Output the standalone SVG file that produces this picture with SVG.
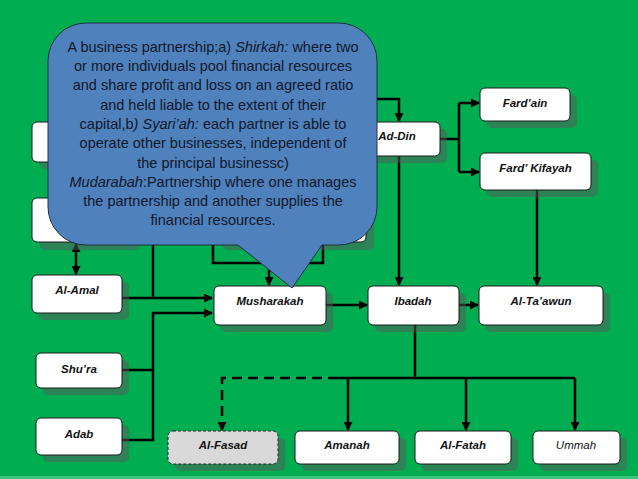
<svg xmlns="http://www.w3.org/2000/svg" width="638" height="479" viewBox="0 0 638 479">
<style>
.bg{fill:#00AD50}
.box{fill:#FFFFFF;stroke:#1a1a1a;stroke-width:1}
.shadow{fill:#5a5a5a;opacity:0.5}
.lbl{font-family:"Liberation Sans",Arial,sans-serif;font-size:11.5px;font-weight:bold;font-style:italic;fill:#111;text-anchor:middle}
.ln{fill:none;stroke:#000;stroke-width:2.5}
.ct{font-family:"Liberation Sans",Arial,sans-serif;font-size:14.5px;fill:#10182a;text-anchor:middle}
</style>
<defs>
<marker id="ah" markerWidth="9" markerHeight="9" refX="8" refY="4.5" orient="auto-start-reverse" markerUnits="userSpaceOnUse">
<path d="M0,0 L9,4.5 L0,9 z" fill="#000"/>
</marker>
</defs>
<rect class="bg" x="0" y="0" width="638" height="479"/>
<rect x="0" y="476" width="638" height="3" fill="#3cc47a"/>

<g id="connectors">
<path class="ln" d="M122 298 H212" marker-end="url(#ah)"/>
<path class="ln" d="M153 240 V298"/>
<path class="ln" d="M122 370 H153"/>
<path class="ln" d="M122 440 H153 V313 H212" marker-end="url(#ah)"/>
<path class="ln" d="M76 244 V274" marker-start="url(#ah)" marker-end="url(#ah)"/>
<path class="ln" d="M213 238 V263 H323 V238"/>
<path class="ln" d="M269 263 V285" marker-end="url(#ah)"/>
<path class="ln" d="M360 99 H399 V121" marker-end="url(#ah)"/>
<path class="ln" d="M440 139 H459"/>
<path class="ln" d="M459 103 V172"/>
<path class="ln" d="M459 103 H479" marker-end="url(#ah)"/>
<path class="ln" d="M459 172 H479" marker-end="url(#ah)"/>
<path class="ln" d="M399 156 V285" marker-end="url(#ah)"/>
<path class="ln" d="M537 190 V285" marker-end="url(#ah)"/>
<path class="ln" d="M326 305 H367" marker-end="url(#ah)"/>
<path class="ln" d="M459 305 H478" marker-end="url(#ah)"/>
<path class="ln" d="M415 325 V378"/>
<path class="ln" d="M338 378 H575"/>
<path class="ln" d="M348 378 V430" marker-end="url(#ah)"/>
<path class="ln" d="M466 378 V430" marker-end="url(#ah)"/>
<path class="ln" d="M575 378 V430" marker-end="url(#ah)"/>
<path class="ln" d="M338 378 H222 V430" stroke-dasharray="10 6" marker-end="url(#ah)"/>
</g>

<g id="hidden1"><rect class="shadow" x="40" y="129" width="100" height="40" rx="5"/><rect class="box" x="32" y="122" width="100" height="40" rx="5"/></g>
<g id="hidden2"><rect class="shadow" x="40" y="206" width="100" height="44" rx="5"/><rect class="box" x="32" y="198" width="100" height="44" rx="5"/></g>
<g id="hidden3"><rect class="shadow" x="223" y="207" width="151" height="43" rx="5"/><rect class="box" x="215" y="200" width="151" height="42" rx="5"/></g>

<g id="al-amal"><rect class="shadow" x="39" y="282" width="90" height="38" rx="5"/><rect class="box" x="32" y="275" width="90" height="38" rx="5"/><text class="lbl" x="77" y="294">Al-Amal</text></g>
<g id="shura"><rect class="shadow" x="43" y="360" width="86" height="35" rx="5"/><rect class="box" x="36" y="353" width="86" height="35" rx="5"/><text class="lbl" x="79" y="373">Shu’ra</text></g>
<g id="adab"><rect class="shadow" x="43" y="425" width="86" height="37" rx="5"/><rect class="box" x="36" y="418" width="86" height="37" rx="5"/><text class="lbl" x="79" y="438">Adab</text></g>
<g id="musharakah"><rect class="shadow" x="221" y="293" width="112" height="39" rx="5"/><rect class="box" x="214" y="286" width="112" height="39" rx="5"/><text class="lbl" x="270" y="305">Musharakah</text></g>
<g id="ibadah"><rect class="shadow" x="375" y="293" width="91" height="39" rx="5"/><rect class="box" x="368" y="286" width="91" height="39" rx="5"/><text class="lbl" x="413" y="305">Ibadah</text></g>
<g id="al-taawun"><rect class="shadow" x="486" y="293" width="124" height="39" rx="5"/><rect class="box" x="479" y="286" width="124" height="39" rx="5"/><text class="lbl" x="541" y="305">Al-Ta’awun</text></g>
<g id="ad-din"><rect class="shadow" x="361" y="129" width="86" height="34" rx="5"/><rect class="box" x="354" y="122" width="86" height="34" rx="5"/><text class="lbl" x="397" y="140">Ad-Din</text></g>
<g id="fardain"><rect class="shadow" x="487" y="95" width="90" height="33" rx="5"/><rect class="box" x="480" y="88" width="90" height="33" rx="5"/><text class="lbl" x="525" y="107">Fard’ain</text></g>
<g id="fardkifayah"><rect class="shadow" x="487" y="160" width="111" height="37" rx="5"/><rect class="box" x="480" y="153" width="111" height="37" rx="5"/><text class="lbl" x="535.5" y="172">Fard’ Kifayah</text></g>
<g id="al-fasad"><rect class="shadow" x="175" y="438" width="110" height="33" rx="5"/><rect x="168" y="431" width="110" height="33" rx="5" fill="#D9D9D9" stroke="#222" stroke-width="1" stroke-dasharray="3 2"/><text class="lbl" x="223" y="449">Al-Fasad</text></g>
<g id="amanah"><rect class="shadow" x="302" y="438" width="104" height="33" rx="5"/><rect class="box" x="295" y="431" width="104" height="33" rx="5"/><text class="lbl" x="347" y="449">Amanah</text></g>
<g id="al-fatah"><rect class="shadow" x="422" y="438" width="96" height="33" rx="5"/><rect class="box" x="415" y="431" width="96" height="33" rx="5"/><text class="lbl" x="463" y="449">Al-Fatah</text></g>
<g id="ummah"><rect class="shadow" x="540" y="438" width="87" height="33" rx="5"/><rect class="box" x="533" y="431" width="87" height="33" rx="5"/><text class="lbl" x="576" y="449" style="font-weight:normal">Ummah</text></g>

<g id="callout">
<path d="M86 23 H339 A38 38 0 0 1 377 61 V207 A38 38 0 0 1 339 245 H322 L292 288 L238 245 H86 A38 38 0 0 1 48 207 V61 A38 38 0 0 1 86 23 Z" fill="#4F81BD" stroke="#1f2f45" stroke-width="1"/>
<text class="ct" x="213" y="52">A business partnership;a) <tspan font-style="italic">Shirkah:</tspan> where two</text>
<text class="ct" x="213" y="71">or more individuals pool financial resources</text>
<text class="ct" x="213" y="90">and share profit and loss on an agreed ratio</text>
<text class="ct" x="213" y="110">and held liable to the extent of their</text>
<text class="ct" x="213" y="129">capital,b<tspan font-style="italic">) Syari’ah:</tspan> each partner is able to</text>
<text class="ct" x="213" y="148">operate other businesses, independent of</text>
<text class="ct" x="213" y="168">the principal businessc)</text>
<text class="ct" x="213" y="187"><tspan font-style="italic">Mudarabah</tspan>:Partnership where one manages</text>
<text class="ct" x="213" y="206">the partnership and another supplies the</text>
<text class="ct" x="213" y="225">financial resources.</text>
</g>
</svg>
